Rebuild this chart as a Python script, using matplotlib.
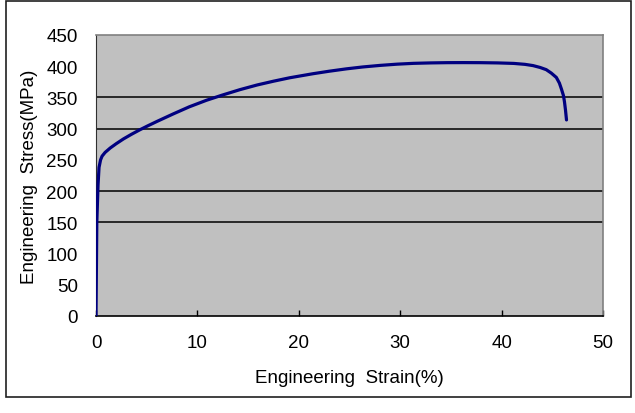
import matplotlib.pyplot as plt
from matplotlib.patches import Rectangle

plt.rcParams['font.family'] = ['Liberation Sans', 'DejaVu Sans']

# stress-strain curve
strain = [0.0, 0.08, 0.2, 0.3, 0.45, 0.6, 0.9, 1.4, 2.0, 2.7, 3.5, 4.3, 5.1, 6.0,
          7.6, 9.2, 10.9, 12.5, 14.2, 15.9, 17.5, 19.1, 21.4, 23.0, 24.7, 26.3,
          28.0, 29.7, 31.3, 33.0, 34.6, 36.2, 37.9, 39.6, 41.2, 42.3, 43.1, 43.8,
          44.4, 44.9, 45.4, 45.7, 45.9, 46.1, 46.2, 46.3, 46.4]
stress = [0, 150, 210, 238, 250, 256, 262, 269, 276, 283.5, 291, 298, 304.5, 311.5,
          323.5, 335, 345.5, 354, 362.5, 370, 376, 381.5, 388, 392, 395.8, 398.8,
          401.3, 403.3, 404.6, 405.3, 405.7, 405.8, 405.7, 405.3, 404.5, 403, 401,
          398, 394.5, 389, 382, 373, 363.5, 353, 343, 330, 314]

grid_levels = [150, 200, 300, 350]
x_ticks = [0, 10, 20, 30, 40, 50]
y_ticks = [0, 50, 100, 150, 200, 250, 300, 350, 400, 450]

W, H = 635, 414
fig = plt.figure(figsize=(W / 100, H / 100), dpi=100)

# outer frame around the whole chart
fig.patches.append(Rectangle((6 / W, 1 - 398 / H), 625 / W, 396 / H,
                             transform=fig.transFigure, fill=False,
                             edgecolor='#202020', lw=1.2))

ax = fig.add_axes([96 / W, 1 - 317 / H, (603 - 96) / W, (317 - 36) / H])
ax.set_facecolor('#c0c0c0')

for lvl in grid_levels:
    ax.axhline(lvl, color='black', lw=1.1, zorder=1)

ax.plot(strain, stress, color='#000080', lw=2.3, zorder=3,
        solid_joinstyle='round', solid_capstyle='round')

ax.set_xlim(0, 50)
ax.set_ylim(0, 450)
ax.set_xticks(x_ticks)
ax.set_yticks(y_ticks)
ax.tick_params(axis='x', direction='in', length=4.5, width=1, labelsize=13.5, pad=13)
ax.tick_params(axis='y', length=0, labelsize=13.5, pad=13)

ax.spines['left'].set_color('#303030')
ax.spines['bottom'].set_color('black')
ax.spines['bottom'].set_linewidth(1.2)
for s in ['top', 'right']:
    ax.spines[s].set_color('#808080')
    ax.spines[s].set_linewidth(1.2)

ax.set_xlabel('Engineering  Strain(%)', fontsize=13.5, labelpad=13)
ax.set_ylabel('Engineering  Stress(MPa)', fontsize=13.5, labelpad=6)

fig.savefig('out.png', dpi=100)
